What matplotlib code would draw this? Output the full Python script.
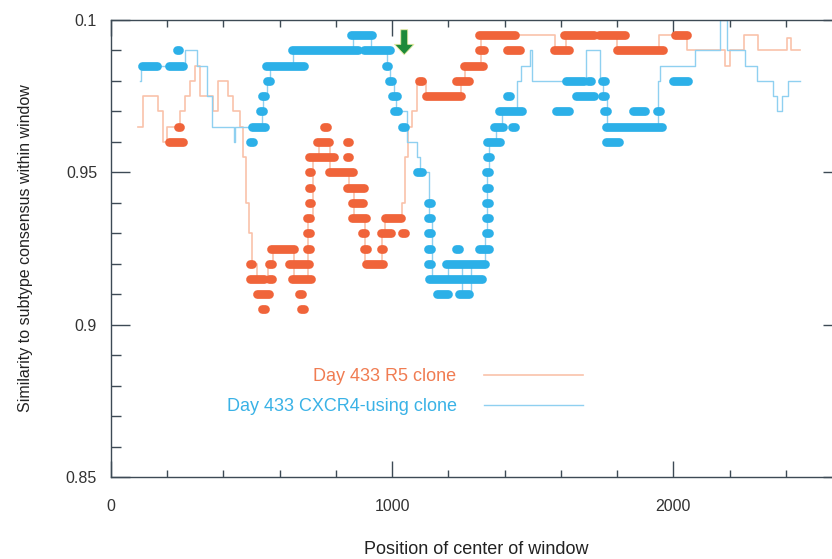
import matplotlib
matplotlib.use("Agg")
import matplotlib.pyplot as plt
from matplotlib.ticker import MultipleLocator, FixedLocator

plt.rcParams['font.family'] = ['Liberation Sans', 'DejaVu Sans']

# sliding-window similarity, stepped lines (x = window centre)
r5_x = [96, 115, 167, 185, 198, 246, 263, 281, 300, 315, 363, 381, 416, 435, 459, 470, 480, 492, 500, 520,
        560, 575, 650, 700, 720, 740, 780, 845, 865, 905, 965, 975, 1035, 1045, 1055, 1070, 1090, 1120, 1245, 1260,
        1315, 1580, 1620, 1800, 1950, 2050, 2185, 2200, 2250, 2300, 2406, 2420, 2452]
r5_y = [0.965, 0.975, 0.97, 0.96, 0.965, 0.97, 0.975, 0.98, 0.985, 0.975, 0.97, 0.98, 0.975, 0.97, 0.965, 0.955, 0.94, 0.93, 0.92, 0.915,
        0.92, 0.925, 0.915, 0.935, 0.955, 0.96, 0.95, 0.945, 0.935, 0.92, 0.93, 0.935, 0.94, 0.955, 0.965, 0.97, 0.98, 0.975, 0.98, 0.985,
        0.995, 0.99, 0.995, 0.99, 0.995, 0.99, 0.985, 0.99, 0.995, 0.99, 0.994, 0.99, 0.99]

cx_x = [103, 106, 263, 305, 342, 359, 436, 442, 500, 536, 541, 555, 565, 648, 860, 925, 982, 993, 1006, 1015,
        1053, 1089, 1100, 1132, 1140, 1200, 1250, 1280, 1330, 1338, 1345, 1370, 1390, 1445, 1460, 1491, 1498, 1690, 1740, 1751,
        1765, 1947, 1952, 2078, 2167, 2192, 2256, 2299, 2356, 2370, 2388, 2409, 2452]
cx_y = [0.98, 0.985, 0.99, 0.985, 0.975, 0.965, 0.96, 0.965, 0.965, 0.97, 0.975, 0.98, 0.985, 0.99, 0.995, 0.99, 0.985, 0.98, 0.975, 0.97,
        0.96, 0.955, 0.95, 0.935, 0.915, 0.92, 0.91, 0.92, 0.93, 0.95, 0.96, 0.965, 0.97, 0.98, 0.985, 0.99, 0.98, 0.99, 0.98, 0.975,
        0.965, 0.98, 0.985, 0.99, 1.0, 0.99, 0.985, 0.98, 0.975, 0.97, 0.975, 0.98, 0.98]

# dot runs (start, end, level)
r5_dot_start = [1313, 1616, 1740, 2010, 1313, 1413, 1580, 1806, 1262, 1100, 1233, 1126, 242, 762, 212, 739, 843,
                710, 843, 708, 780, 708, 845, 708, 862, 703, 862, 980, 703, 897, 966, 1040,
                575, 703, 904, 964, 498, 566, 639, 913, 500, 566, 650, 525, 673, 541, 680]
r5_dot_end = [1431, 1712, 1822, 2043, 1320, 1450, 1623, 1958, 1318, 1100, 1268, 1240, 242, 762, 250, 770, 843,
              788, 843, 708, 856, 708, 895, 708, 892, 703, 902, 1026, 703, 897, 992, 1040,
              646, 703, 904, 964, 498, 566, 701, 962, 539, 566, 706, 557, 673, 541, 680]
r5_dot_level = [0.995, 0.995, 0.995, 0.995, 0.99, 0.99, 0.99, 0.99, 0.985, 0.98, 0.98, 0.975, 0.965, 0.965, 0.96, 0.96, 0.96,
                0.955, 0.955, 0.95, 0.95, 0.945, 0.945, 0.94, 0.94, 0.935, 0.935, 0.935, 0.93, 0.93, 0.93, 0.93,
                0.925, 0.925, 0.925, 0.925, 0.92, 0.92, 0.92, 0.92, 0.915, 0.915, 0.915, 0.91, 0.91, 0.905, 0.905]

cx_dot_start = [858, 238, 648, 904, 114, 210, 555, 982, 560, 993, 1623, 1701, 1751, 2003,
                541, 1006, 1413, 1658, 1751, 536, 1012, 1384, 1587, 1758, 1862, 1947,
                505, 1040, 1367, 1431, 1765, 501, 1344, 1765, 1342, 1095, 1338, 1338, 1132, 1338,
                1132, 1338, 1132, 1338, 1132, 1231, 1313, 1132, 1195, 1135, 1164, 1242]
cx_dot_end = [925, 238, 875, 986, 157, 252, 683, 982, 560, 993, 1676, 1701, 1751, 2048,
              541, 1011, 1413, 1712, 1751, 536, 1017, 1456, 1623, 1758, 1893, 1947,
              541, 1040, 1391, 1431, 1954, 501, 1377, 1801, 1342, 1100, 1338, 1338, 1132, 1338,
              1132, 1338, 1132, 1338, 1132, 1231, 1341, 1132, 1324, 1313, 1195, 1270]
cx_dot_level = [0.995, 0.99, 0.99, 0.99, 0.985, 0.985, 0.985, 0.985, 0.98, 0.98, 0.98, 0.98, 0.98, 0.98,
                0.975, 0.975, 0.975, 0.975, 0.975, 0.97, 0.97, 0.97, 0.97, 0.97, 0.97, 0.97,
                0.965, 0.965, 0.965, 0.965, 0.965, 0.96, 0.96, 0.96, 0.955, 0.95, 0.95, 0.945, 0.94, 0.94,
                0.935, 0.935, 0.93, 0.93, 0.925, 0.925, 0.925, 0.92, 0.92, 0.915, 0.91, 0.91]

y_tick_vals = [0.85, 0.9, 0.95, 1.0]
y_tick_text = ['0.85', '0.9', '0.95', '0.1']
x_tick_vals = [0, 1000, 2000]
x_tick_text = ['0', '1000', '2000']

R5_DOT = '#f0643a'
CX_DOT = '#2cb0e8'
R5_LINE = '#f9c2aa'
CX_LINE = '#8fd0f0'
AXCOL = '#3d4a55'

fig = plt.figure(figsize=(8.32, 5.59), dpi=100)
ax = fig.add_axes([111 / 832, 1 - 477 / 559, (842 - 111) / 832, (477 - 20) / 559])

l1, = ax.plot(r5_x, r5_y, drawstyle='steps-post', color=R5_LINE, lw=1.2, zorder=1, label='Day 433 R5 clone')
l2, = ax.plot(cx_x, cx_y, drawstyle='steps-post', color=CX_LINE, lw=1.0, zorder=1, label='Day 433 CXCR4-using clone')

# each run of window dots as a round-capped bar
for s, e, v in zip(r5_dot_start, r5_dot_end, r5_dot_level):
    ax.plot([s - 5, e + 5], [v, v], color=R5_DOT, lw=6.3, solid_capstyle='round', zorder=3)
for s, e, v in zip(cx_dot_start, cx_dot_end, cx_dot_level):
    ax.plot([s - 5, e + 5], [v, v], color=CX_DOT, lw=6.3, solid_capstyle='round', zorder=3)

# green arrow marking the breakpoint
ax.annotate('', xy=(1043, 0.9886), xytext=(1043, 0.9968),
            arrowprops=dict(arrowstyle='simple,head_length=0.75,head_width=1.4,tail_width=0.5',
                            mutation_scale=10, fc='#1e8a3a', ec='#e8eaa0', lw=0.6,
                            shrinkA=0, shrinkB=0), zorder=5)

ax.set_xlim(0, 2600)
ax.set_ylim(0.85, 1.0)

ax.xaxis.set_major_locator(FixedLocator(x_tick_vals))
ax.set_xticklabels(x_tick_text)
ax.xaxis.set_minor_locator(MultipleLocator(200))
ax.yaxis.set_major_locator(FixedLocator(y_tick_vals))
ax.set_yticklabels(y_tick_text)
ax.yaxis.set_minor_locator(MultipleLocator(0.01))

ax.tick_params(axis='both', which='both', direction='in', top=True, right=True, color=AXCOL,
               labelcolor='#333333', labelsize=11.5, width=1.0)
ax.tick_params(axis='x', which='major', length=11.5, pad=16)
ax.tick_params(axis='x', which='minor', length=5)
ax.tick_params(axis='y', which='major', length=14, pad=10)
ax.tick_params(axis='y', which='minor', length=7.5)

for s in ax.spines.values():
    s.set_color(AXCOL)
    s.set_linewidth(1.0)

ax.set_xlabel('Position of center of window', fontsize=13, color='#222222', labelpad=19.5)
ax.set_ylabel('Similarity to subtype consensus within window', fontsize=11.5, color='#222222', labelpad=24)

leg = ax.legend(handles=[l1, l2], loc='upper right', bbox_to_anchor=((583 - 111) / 731, (477 - 368) / 457),
                frameon=False, markerfirst=False, fontsize=13, handlelength=5.5, handletextpad=1.5,
                borderpad=0, borderaxespad=0, labelspacing=0.72)
for t, c in zip(leg.get_texts(), ['#f07c52', '#3ab2e6']):
    t.set_color(c)

fig.savefig('out.png', dpi=100)
